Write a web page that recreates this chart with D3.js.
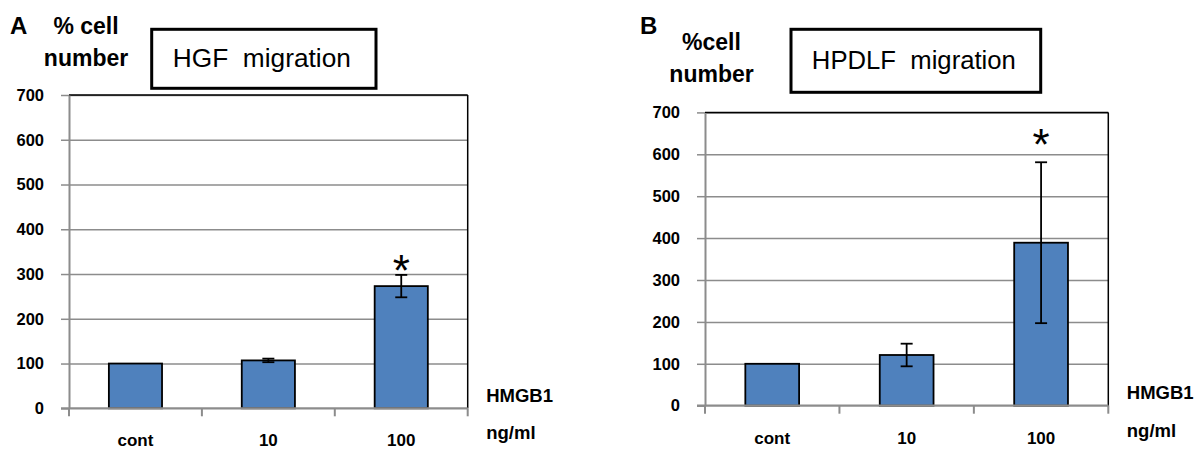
<!DOCTYPE html>
<html>
<head>
<meta charset="utf-8">
<script src="https://cdn.jsdelivr.net/npm/d3@7/dist/d3.min.js"></script>
<style>
  html, body { margin: 0; padding: 0; background: #fff; }
  svg { display: block; }
  text { font-family: "Liberation Sans", Arial, sans-serif; }
</style>
</head>
<body>
<svg id="chart" width="1198" height="450"></svg>
<script>
// ---- data ----
const categories = ["cont", "10", "100"];
const yTicks = [0, 100, 200, 300, 400, 500, 600, 700];

const hgfMeans = [100, 107, 273];
const hgfErrors = [0, 4, 25];
const hgfStars = [null, null, 330];   // y-value (data units) where the significance mark sits

const hpdlfMeans = [100, 121, 389];
const hpdlfErrors = [0, 27, 192];
const hpdlfStars = [null, null, 646];

const panelLetters = ["A", "B"];
const panelTitles = ["HGF  migration", "HPDLF  migration"];
const yTitlesTop = ["% cell", "%cell"];
const yTitleBottom = "number";
const xTitleTop = "HMGB1";
const xTitleBottom = "ng/ml";

// ---- layout ----
const panels = [
  { letter: panelLetters[0], title: panelTitles[0], yTitle: yTitlesTop[0],
    means: hgfMeans, errs: hgfErrors, stars: hgfStars,
    left: 69, right: 467.7, top: 95, bottom: 408.3,
    letterX: 10, titleX: 86, titleY: 33.7,
    box: { x: 151.7, y: 29.3, w: 224.3, h: 59 }, boxTextW: 178 },
  { letter: panelLetters[1], title: panelTitles[1], yTitle: yTitlesTop[1],
    means: hpdlfMeans, errs: hpdlfErrors, stars: hpdlfStars,
    left: 705, right: 1108.3, top: 112.4, bottom: 405.7,
    letterX: 640, titleX: 711.5, titleY: 50,
    box: { x: 791, y: 29.3, w: 249.7, h: 63 }, boxTextW: 204 }
];

const svg = d3.select("#chart");
const gridColor = "#8c8c8c";
const barColor = "#4f81bd";

panels.forEach(p => {
  const g = svg.append("g");
  const x = d3.scaleBand().domain(categories).range([p.left, p.right]).paddingInner(0.6).paddingOuter(0.3);
  const xb = d3.scaleBand().domain(categories).range([p.left, p.right]);
  const y = d3.scaleLinear().domain([0, 700]).range([p.bottom, p.top]);
  const width = p.right - p.left;

  // gridlines
  const grid = g.append("g").attr("transform", `translate(${p.left},0)`)
    .call(d3.axisLeft(y).tickValues(yTicks.slice(1)).tickSize(-width).tickFormat(""));
  grid.select(".domain").remove();
  grid.selectAll("line").attr("stroke", gridColor).attr("stroke-width", 1.5);

  // top / right frame (black)
  g.append("line").attr("x1", p.left).attr("x2", p.right).attr("y1", y(700)).attr("y2", y(700))
    .attr("stroke", "#000").attr("stroke-width", 1.5);
  g.append("line").attr("x1", p.right).attr("x2", p.right).attr("y1", y(700)).attr("y2", y(0))
    .attr("stroke", "#000").attr("stroke-width", 1.5);

  // bars
  g.selectAll("rect.bar").data(categories).join("rect")
    .attr("class", "bar")
    .attr("x", d => x(d)).attr("width", x.bandwidth())
    .attr("y", (d, i) => y(p.means[i]))
    .attr("height", (d, i) => y(0) - y(p.means[i]))
    .attr("fill", barColor).attr("stroke", "#000").attr("stroke-width", 1.8);

  // y axis with outside ticks + labels
  const ya = g.append("g").attr("transform", `translate(${p.left},0)`)
    .call(d3.axisLeft(y).tickValues(yTicks).tickSize(8).tickPadding(17).tickSizeOuter(0));
  ya.select(".domain").attr("stroke", gridColor).attr("stroke-width", 2);
  ya.selectAll("line").attr("stroke", gridColor).attr("stroke-width", 1.5);
  ya.selectAll("text").attr("fill", "#000").attr("font-size", 16.5).attr("font-weight", "bold")
    .attr("font-family", "Liberation Sans, Arial, sans-serif");

  // x axis line
  g.append("line").attr("x1", p.left - 8).attr("x2", p.right).attr("y1", y(0)).attr("y2", y(0))
    .attr("stroke", gridColor).attr("stroke-width", 2.2);
  // x boundary ticks
  const bounds = categories.map(c => xb(c)).concat([p.right]);
  g.selectAll("line.xt").data(bounds).join("line").attr("class", "xt")
    .attr("x1", d => d).attr("x2", d => d).attr("y1", y(0)).attr("y2", y(0) + 8)
    .attr("stroke", gridColor).attr("stroke-width", 2);
  // x labels
  const xa = g.append("g").attr("transform", `translate(0,${y(0)})`)
    .call(d3.axisBottom(xb).tickSize(0).tickPadding(26));
  xa.select(".domain").remove();
  xa.selectAll("text").attr("fill", "#000").attr("font-size", 17).attr("font-weight", "bold")
    .attr("font-family", "Liberation Sans, Arial, sans-serif");

  // error bars
  const eg = g.selectAll("g.err").data(categories.map((c, i) => ({ c, m: p.means[i], e: p.errs[i] })).filter(d => d.e > 0))
    .join("g").attr("class", "err");
  const cx = d => xb(d.c) + xb.bandwidth() / 2;
  eg.append("line").attr("x1", cx).attr("x2", cx).attr("y1", d => y(d.m + d.e)).attr("y2", d => y(d.m - d.e))
    .attr("stroke", "#000").attr("stroke-width", 1.8);
  [1, -1].forEach(s => {
    eg.append("line").attr("x1", d => cx(d) - 6).attr("x2", d => cx(d) + 6)
      .attr("y1", d => y(d.m + s * d.e)).attr("y2", d => y(d.m + s * d.e))
      .attr("stroke", "#000").attr("stroke-width", 1.8);
  });

  // significance stars
  g.selectAll("text.star").data(categories.map((c, i) => ({ c, v: p.stars[i] })).filter(d => d.v != null))
    .join("text").attr("class", "star")
    .attr("x", d => xb(d.c) + xb.bandwidth() / 2)
    .attr("y", d => y(d.v) + 25)
    .attr("text-anchor", "middle").attr("font-size", 44)
    .attr("font-family", "Liberation Sans, Arial, sans-serif")
    .text("*");

  // panel letter
  g.append("text").attr("x", p.letterX).attr("y", 34).attr("font-size", 24).attr("font-weight", "bold").text(p.letter);

  // y title
  g.append("text").attr("x", p.titleX).attr("y", p.titleY).attr("text-anchor", "middle")
    .attr("font-size", 23).attr("font-weight", "bold").text(p.yTitle);
  g.append("text").attr("x", p.titleX).attr("y", p.titleY + 32).attr("text-anchor", "middle")
    .attr("font-size", 23).attr("font-weight", "bold").text(yTitleBottom);

  // x title
  g.append("text").attr("x", p.right + 18.5).attr("y", y(0) - 6.5)
    .attr("font-size", 18.5).attr("font-weight", "bold").text(xTitleTop);
  g.append("text").attr("x", p.right + 18.5).attr("y", y(0) + 31)
    .attr("font-size", 18.5).attr("font-weight", "bold").text(xTitleBottom);

  // title box
  g.append("rect").attr("x", p.box.x).attr("y", p.box.y).attr("width", p.box.w).attr("height", p.box.h)
    .attr("fill", "#fff").attr("stroke", "#000").attr("stroke-width", 3);
  g.append("text").attr("x", p.box.x + p.box.w / 2 - 2).attr("y", p.box.y + p.box.h / 2 + 8)
    .attr("text-anchor", "middle").attr("font-size", 25)
    .attr("font-family", "Lato, 'Open Sans', sans-serif")
    .attr("textLength", p.boxTextW).attr("lengthAdjust", "spacingAndGlyphs")
    .style("white-space", "pre").attr("xml:space", "preserve")
    .text(p.title);
});
</script>
</body>
</html>
